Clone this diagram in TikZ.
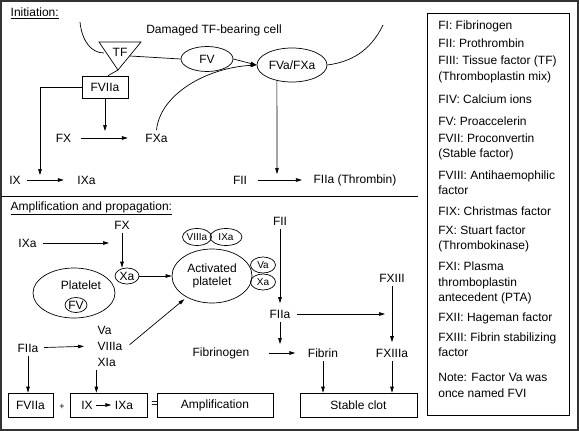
\documentclass[tikz,border=0pt]{standalone}
\usepackage{fontspec}
\setmainfont{Liberation Sans}
\usetikzlibrary{arrows.meta,shapes.geometric,positioning,calc}

\begin{document}
\begin{tikzpicture}[x=1pt,y=-1pt,
    font=\fontsize{12}{16}\selectfont,
    line width=0.7pt,
    arr/.style={-{Triangle[length=6pt,width=3.6pt]}},
    oval/.style={draw,ellipse,inner sep=0pt},
    small/.style={font=\fontsize{10}{12}\selectfont},
    bx/.style={draw,inner sep=0pt,minimum height=24pt},
    legend/.style={anchor=base west,inner sep=0pt}]
  \useasboundingbox (0,0) rectangle (579,431);
  \draw[line width=1.2pt,black!80] (1,1) rectangle (578,430);
  \draw (1,196) -- (418,196);
  \draw (427,13) rectangle (569,415);

  % initiation
  \node[anchor=west] (init) at (7,13) {\underline{Initiation:}};
  \node (cell) at (214,30) {Damaged TF-bearing cell};
  \node (tf) at (120,52) {TF};
  \coordinate (tfR) at (130,56);
  \coordinate (tfA) at (118,70);
  \draw (99,42) -- (141,42) -- (tfA) -- cycle;
  \node[oval,minimum width=52,minimum height=25] (fv) at (207,59) {FV};
  \node[oval,minimum width=70,minimum height=34] (fvaxa) at (292,65) {FVa/FXa};
  \node[draw,inner sep=0pt,minimum width=46,minimum height=22] (fviia) at (105,87) {FVIIa};
  \node (fx) at (63.5,138) {FX};
  \node (fxa) at (156.5,138) {FXa};
  \node (ix) at (15,180) {IX};
  \node (ixa) at (86.5,180) {IXa};
  \node (fii) at (240,180) {FII};
  \node (fiia) at (355,180) {FIIa (Thrombin)};
  \coordinate (jfx) at (105,131);
  \coordinate (jix) at (40,175);
  \coordinate (jfii) at (277,174);

  \draw (80,22) .. controls (82,42) and (92,53) .. (104,53);
  \draw (383,25) .. controls (370,52) and (350,62) .. (fvaxa.east);
  \draw (tfR) -- (fv.west);
  \draw[arr] (fv.east) -- (fvaxa.west);
  \draw (tfA) -- ($(fviia.north)+(3,0)$);
  \draw[arr] (fviia.south) -- (jfx);
  \draw[arr] (fviia.west) -| (jix);
  \draw[arr,shorten <=3pt,shorten >=10pt] (ix) -- (ixa);
  \draw[arr,shorten <=6pt,shorten >=14pt] (fx) -- (fxa);
  \draw[arr] (fxa.north) .. controls (160,95) and (205,68) .. (fvaxa.west);
  \draw[arr] (fvaxa.-134) -- (jfii);
  \draw[arr,shorten <=7pt,shorten >=8pt] (fii) -- (fiia);

  % amplification and propagation
  \node[anchor=west] (ampl) at (7,208) {\underline{Amplification and propagation:}};
  \node (fx2) at (122,225) {FX};
  \node (ixa2) at (27.5,243) {IXa};
  \node[oval,minimum width=82,minimum height=50] (plt) at (74,293) {};
  \node (plttxt) at (81,285) {Platelet};
  \node[oval,minimum width=22,minimum height=15] (fvp) at (76,305) {FV};
  \node[oval,minimum width=24,minimum height=16] (xa1) at (127,276) {Xa};
  \node[oval,minimum width=80,minimum height=54,align=center] (aplt) at (212,276) {Activated\\[-3pt]platelet};
  \node[oval,small,minimum width=29,minimum height=17] (viiia) at (197,237) {VIIIa};
  \node[oval,small,minimum width=32,minimum height=17] (ixa3) at (226,237) {IXa};
  \node[oval,small,minimum width=25,minimum height=16] (va) at (263,265) {Va};
  \node[oval,small,minimum width=25,minimum height=16] (xa2) at (263,282) {Xa};
  \node (fii2) at (280,221) {FII};
  \node (fiia2) at (280,314) {FIIa};
  \node (fxiii) at (392,278) {FXIII};
  \node (fbg) at (221,353) {Fibrinogen};
  \node (fib) at (323,353) {Fibrin};
  \node (fxiiia) at (392,353) {FXIIIa};
  \node (fiia3) at (28,348) {FIIa};
  \node[align=left] (vvx) at (110,346) {Va\\VIIIa\\XIa};
  \coordinate (jxa) at (109,243);
  \coordinate (jxiii) at (385,314);
  \coordinate (jfib) at (280,344);

  \node[bx,minimum width=45] (fviia2) at (30.5,405) {FVIIa};
  \node[font=\fontsize{9}{9}\selectfont] (plus) at (62,407) {+};
  \node[bx,minimum width=77] (ix2) at (108.5,405) {};
  \node (ix3) at (87,405) {IX};
  \node (ixa4) at (124,405) {IXa};
  \node (eq) at (155,405) {=};
  \node[bx,minimum width=116] (ampbox) at (215,405) {Amplification};
  \node[bx,minimum width=117] (clot) at (358.5,405) {Stable clot};

  \draw[arr,shorten <=3pt] (ixa2) -- (jxa);
  \draw[arr] (fx2.south) -- (fx2.south |- xa1.north);
  \draw[arr] (xa1.east) -- (xa1.east -| aplt.west);
  \draw[arr,shorten >=3pt] (fii2.south) -- (fiia2.north);
  \draw[arr,shorten <=3pt] (fiia2) -- (jxiii);
  \draw[arr] (fiia2.south) -- (jfib);
  \draw[arr,shorten <=16pt,shorten >=9pt] (fbg) -- (fib);
  \draw[arr,shorten >=3pt] (fxiii.south) -- (fxiiia.north);
  \draw[arr] (fib.south) -- (fib.south |- clot.north);
  \draw[arr] (fxiiia.south) -- (fxiiia.south |- clot.north);
  \draw[arr,shorten <=2pt,shorten >=10pt] (fiia3) -- (vvx.west);
  \draw[arr,shorten <=2pt,shorten >=3pt] ($(vvx.east)+(2,0)$) -- (aplt.-140);
  \draw[arr] (fiia3.south) -- (fiia3.south |- fviia2.north);
  \draw[arr] (vvx.south -| ix3.east) -- (ix3.east |- ix2.north);
  \draw[arr] (ix3) -- (ixa4);

  % legend
  \foreach \y/\txt in {
      25/{FI: Fibrinogen},
      43/{FII: Prothrombin},
      60/{FIII: Tissue factor (TF)},
      76/{(Thromboplastin mix)},
      99/{FIV: Calcium ions},
      121/{FV: Proaccelerin},
      138/{FVII: Proconvertin},
      153/{(Stable factor)},
      175/{FVIII: Antihaemophilic},
      190/{factor},
      211/{FIX: Christmas factor},
      230/{FX: Stuart factor},
      245/{(Thrombokinase)},
      266/{FXI: Plasma},
      282/{thromboplastin},
      297/{antecedent (PTA)},
      317/{FXII: Hageman factor},
      337/{FXIII: Fibrin stabilizing},
      352/{factor},
      377/{Note: Factor Va was},
      393/{once named FVI}}
    \node[legend] (leg\y) at (438,{\y+4.3}) {\txt};
\end{tikzpicture}
\end{document}
